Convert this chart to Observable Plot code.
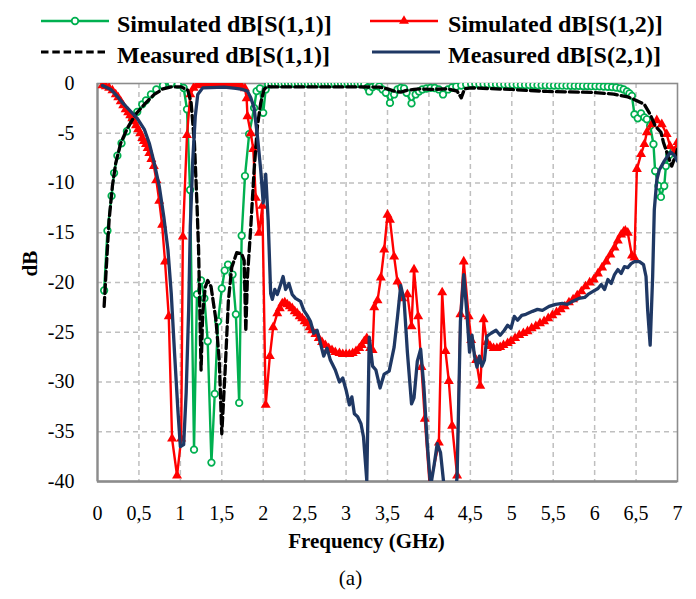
<!DOCTYPE html>
<html><head><meta charset="utf-8">
<script src="https://cdn.jsdelivr.net/npm/d3@7"></script>
<script src="https://cdn.jsdelivr.net/npm/@observablehq/plot@0.6"></script>
<style>
body{margin:0;background:#fff;font-family:"Liberation Serif","Times New Roman",Times,"DejaVu Serif",serif;}
#legend,#chart{width:696px;}
#legend svg,#chart svg{display:block;}
svg text{font-family:"Liberation Serif","Times New Roman",Times,"DejaVu Serif",serif !important;}
</style></head><body>
<div id="legend"></div><div id="chart"></div>
<script>
// ---- data ----
const legendLabels = ["Simulated dB[S(1,1)]","Simulated dB[S(1,2)]","Measured dB[S(1,1)]","Measured dB[S(2,1)]"];
const xTicks = [0,0.5,1,1.5,2,2.5,3,3.5,4,4.5,5,5.5,6,6.5,7];
const xTickLabels = ["0","0,5","1","1,5","2","2,5","3","3,5","4","4,5","5","5,5","6","6,5","7"];
const yTicks = [0,-5,-10,-15,-20,-25,-30,-35,-40];
const yTickLabels = ["0","-5","-10","-15","-20","-25","-30","-35","-40"];

// Simulated dB[S(1,1)]
const simS11F = [0.08,0.12,0.17,0.20,0.24,0.29,0.355,0.42,0.48,0.54,0.585,0.645,0.71,0.79,0.89,0.97,1.04,1.08,1.117,1.165,1.2,1.25,1.29,1.33,1.375,1.415,1.455,1.5,1.535,1.575,1.63,1.67,1.71,1.74,1.78,1.83,1.89,1.92,1.96,2.0,2.03,2.06,2.10,2.14,2.18,2.22,2.26,2.30,2.34,2.38,2.42,2.46,2.50,2.54,2.58,2.62,2.66,2.70,2.74,2.78,2.82,2.86,2.90,2.94,2.98,3.02,3.06,3.10,3.14,3.18,3.22,3.26,3.28,3.32,3.36,3.40,3.44,3.48,3.53,3.58,3.62,3.66,3.70,3.73,3.79,3.84,3.88,3.92,3.97,4.02,4.07,4.12,4.17,4.23,4.28,4.33,4.39,4.45,4.51,4.56,4.61,4.66,4.71,4.76,4.81,4.86,4.91,4.96,5.01,5.06,5.11,5.16,5.21,5.26,5.31,5.36,5.41,5.46,5.51,5.56,5.61,5.66,5.71,5.76,5.81,5.86,5.91,5.96,6.01,6.06,6.11,6.16,6.21,6.26,6.31,6.35,6.39,6.42,6.45,6.48,6.52,6.56,6.6,6.63,6.67,6.71,6.73,6.77,6.8,6.84,6.86,6.9,6.95,7.0];
const simS11Db = [-20.8,-14.8,-11.3,-9.0,-7.25,-6.0,-4.8,-3.6,-2.85,-2.1,-1.7,-1.1,-0.6,-0.2,0,-0.1,-0.45,-2.6,-10.7,-36.8,-21.2,-19.8,-21.6,-25.9,-38.1,-31.2,-23.9,-20.6,-18.8,-18.2,-19.2,-23.2,-32.1,-15.3,-9.3,-5.1,-2.45,-0.77,-0.5,-2.95,-0.6,-0.1,-0.05,-0.03,-0.02,-0.02,-0.02,-0.02,-0.02,-0.02,-0.02,-0.02,-0.02,-0.02,-0.02,-0.02,-0.02,-0.02,-0.02,-0.02,-0.02,-0.02,-0.02,-0.02,-0.02,-0.02,-0.03,-0.03,-0.04,-0.05,-0.1,-0.4,-0.8,-0.35,-0.2,-0.3,-0.6,-0.94,-1.95,-1.1,-0.6,-0.44,-0.5,-0.94,-2.0,-1.1,-0.8,-0.6,-0.5,-0.44,-0.45,-0.6,-1.1,-0.6,-0.4,-0.3,-0.2,-0.1,-0.05,-0.06,-0.07,-0.08,-0.08,-0.09,-0.1,-0.1,-0.11,-0.12,-0.12,-0.13,-0.14,-0.15,-0.15,-0.16,-0.17,-0.18,-0.19,-0.2,-0.2,-0.21,-0.22,-0.22,-0.23,-0.24,-0.24,-0.25,-0.26,-0.27,-0.28,-0.29,-0.31,-0.33,-0.36,-0.4,-0.48,-0.6,-0.8,-1.0,-1.24,-3.1,-3.5,-3.0,-3.4,-3.6,-4.25,-6.1,-8.8,-10.3,-11.4,-10.3,-8.3,-7.2,-6.8,-6.6];

// Simulated dB[S(1,2)]
const simS12F = [0.06,0.10,0.14,0.18,0.22,0.25,0.28,0.31,0.34,0.37,0.395,0.42,0.44,0.465,0.49,0.515,0.54,0.56,0.585,0.605,0.625,0.65,0.68,0.71,0.745,0.78,0.815,0.86,0.90,0.96,1.01,1.03,1.08,1.12,1.16,1.2,1.23,1.26,1.29,1.32,1.35,1.38,1.41,1.44,1.47,1.50,1.53,1.56,1.59,1.62,1.65,1.68,1.71,1.74,1.78,1.80,1.81,1.85,1.88,1.91,1.95,1.99,2.03,2.08,2.12,2.17,2.20,2.23,2.26,2.29,2.32,2.35,2.38,2.41,2.44,2.47,2.50,2.53,2.56,2.59,2.63,2.67,2.71,2.75,2.79,2.83,2.87,2.92,2.96,3.0,3.04,3.08,3.12,3.16,3.19,3.22,3.25,3.29,3.32,3.34,3.38,3.42,3.46,3.50,3.53,3.58,3.62,3.68,3.74,3.79,3.82,3.87,3.91,3.95,4.01,4.12,4.16,4.2,4.24,4.28,4.34,4.38,4.42,4.48,4.51,4.57,4.62,4.66,4.70,4.74,4.78,4.82,4.86,4.90,4.95,4.99,5.04,5.09,5.14,5.19,5.24,5.29,5.34,5.39,5.44,5.49,5.54,5.59,5.64,5.69,5.74,5.79,5.84,5.89,5.94,5.99,6.04,6.09,6.14,6.19,6.24,6.28,6.32,6.35,6.37,6.40,6.45,6.48,6.51,6.56,6.6,6.63,6.69,6.75,6.81,6.87,6.91,6.96,7.0];
const simS12Db = [-0.2,-0.3,-0.44,-0.7,-1.1,-1.4,-1.8,-2.2,-2.6,-2.9,-3.2,-3.5,-3.8,-4.2,-4.6,-5.0,-5.5,-5.8,-6.1,-6.5,-7.0,-7.6,-8.3,-9.7,-11.8,-14.2,-17.9,-23.4,-35.7,-39.4,-35.7,-15.4,-5.2,-1.1,-0.44,-0.2,-0.15,-0.13,-0.12,-0.12,-0.12,-0.12,-0.12,-0.12,-0.13,-0.13,-0.14,-0.15,-0.16,-0.18,-0.2,-0.22,-0.25,-0.3,-0.5,-1.5,-3.3,-5.0,-6.6,-11.5,-15.0,-12.3,-32.3,-27.4,-24.5,-23.1,-22.6,-22.1,-22.0,-22.2,-22.4,-22.6,-22.9,-23.1,-23.4,-23.6,-23.9,-24.1,-24.5,-24.8,-25.2,-25.6,-26.0,-26.3,-26.6,-26.8,-27.0,-27.1,-27.2,-27.2,-27.2,-27.1,-26.9,-26.6,-26.3,-25.9,-25.6,-26.6,-26.8,-22.5,-21.8,-19.5,-16.7,-13.2,-13.7,-17.4,-19.9,-21.6,-21.2,-24.4,-18.7,-23.4,-28.5,-33.7,-40.5,-36.1,-21.0,-26.9,-29.9,-34.4,-39.4,-23.2,-17.9,-23.4,-25.8,-27.8,-30.4,-23.7,-26.0,-26.4,-26.6,-26.6,-26.5,-26.3,-26.1,-25.9,-25.6,-25.3,-25.1,-24.9,-24.6,-24.4,-24.1,-23.9,-23.6,-23.3,-23.0,-22.7,-22.4,-22.0,-21.7,-21.3,-20.9,-20.4,-20.0,-19.7,-19.1,-18.5,-17.9,-17.2,-16.5,-15.8,-15.2,-14.9,-14.8,-15.0,-17.3,-17.5,-8.6,-7.1,-6.1,-4.9,-4.1,-3.7,-4.1,-5.1,-6.3,-6.8,-5.9];

// Measured dB[S(1,1)]
const measS11F = [0.08,0.10,0.14,0.18,0.22,0.28,0.36,0.46,0.565,0.685,0.79,0.89,1.01,1.09,1.13,1.17,1.2,1.22,1.235,1.25,1.27,1.30,1.33,1.37,1.43,1.47,1.50,1.54,1.58,1.62,1.68,1.74,1.77,1.79,1.81,1.85,1.89,1.93,1.97,2.01,2.05,2.09,2.5,3.0,3.4,3.5,3.58,3.66,3.74,3.82,3.9,4.02,4.23,4.34,4.39,4.43,4.51,5.0,5.43,6.0,6.23,6.4,6.47,6.6,6.67,6.73,6.8,6.83,6.89,6.93,6.97,7.0];
const measS11Db = [-22.4,-19.4,-13.7,-10.3,-8.0,-6.0,-4.5,-3.1,-2.1,-1.1,-0.54,-0.34,-0.34,-0.67,-1.95,-6.0,-12.0,-16.7,-22.8,-28.8,-23.0,-20.5,-19.8,-20.4,-23.8,-27.9,-35.2,-28.9,-21.8,-18.5,-17.0,-17.1,-17.8,-24.9,-19.4,-14.4,-8.7,-4.3,-1.95,-0.6,-0.27,-0.34,-0.34,-0.34,-0.36,-0.54,-0.77,-0.87,-0.67,-0.6,-0.54,-0.6,-0.54,-0.77,-1.44,-0.54,-0.44,-0.6,-0.8,-0.9,-1.07,-1.35,-1.57,-2.1,-3.1,-4.25,-4.9,-5.9,-7.4,-8.3,-7.4,-6.6];

// Measured dB[S(2,1)]
const measS21F = [0.06,0.16,0.24,0.32,0.40,0.48,0.565,0.625,0.685,0.745,0.80,0.85,0.89,0.93,0.97,1.0,1.04,1.07,1.10,1.12,1.15,1.18,1.21,1.27,1.53,1.67,1.75,1.81,1.85,1.89,1.93,1.97,2.0,2.03,2.06,2.09,2.11,2.14,2.17,2.21,2.24,2.27,2.31,2.35,2.39,2.45,2.49,2.53,2.57,2.61,2.65,2.69,2.73,2.77,2.81,2.87,2.92,2.96,3.0,3.04,3.07,3.10,3.14,3.18,3.21,3.25,3.28,3.32,3.36,3.41,3.46,3.52,3.58,3.62,3.66,3.70,3.74,3.79,3.82,3.86,3.9,3.94,3.98,4.02,4.06,4.1,4.14,4.18,4.22,4.3,4.34,4.38,4.42,4.46,4.49,4.52,4.55,4.58,4.61,4.64,4.67,4.70,4.75,4.81,4.86,4.91,4.95,4.99,5.03,5.07,5.12,5.17,5.25,5.31,5.37,5.45,5.53,5.61,5.67,5.73,5.81,5.88,5.92,5.98,6.04,6.08,6.12,6.16,6.2,6.24,6.28,6.32,6.36,6.4,6.44,6.48,6.54,6.59,6.62,6.64,6.67,6.70,6.72,6.75,6.78,6.84,6.88,6.92,6.96,7.0];
const measS21Db = [-0.2,-0.6,-1.3,-2.1,-2.8,-3.5,-4.6,-6.0,-8.0,-10.3,-13.4,-16.7,-21.1,-27.1,-32.8,-36.5,-36.3,-31.1,-22.8,-14.4,-7.65,-3.3,-1.1,-0.44,-0.37,-0.5,-0.6,-0.77,-1.44,-2.45,-5.3,-8.7,-12.0,-9.1,-13.8,-21.1,-21.7,-20.7,-21.2,-20.2,-19.4,-20.7,-20.1,-21.2,-21.6,-21.9,-22.8,-23.3,-23.9,-25.1,-24.8,-26.1,-27.4,-26.6,-27.8,-28.8,-30.0,-29.6,-30.8,-32.3,-31.5,-33.2,-33.5,-34.2,-35.5,-39.9,-25.5,-28.4,-28.8,-30.6,-29.2,-28.9,-26.5,-23.5,-20.3,-21.8,-27.0,-32.2,-31.6,-27.9,-26.7,-30.6,-36.2,-40.5,-38.5,-36.2,-37.1,-40.3,-43,-43,-39.5,-23.9,-19.2,-23.3,-27.0,-25.3,-27.4,-28.5,-27.4,-28.4,-27.8,-25.4,-25.1,-24.8,-25.3,-24.8,-24.3,-24.6,-23.4,-23.8,-23.3,-23.2,-22.9,-22.7,-22.8,-22.4,-22.2,-22.1,-22.2,-21.9,-21.6,-21.5,-21.2,-20.9,-20.6,-20.2,-20.7,-19.7,-20.1,-19.2,-18.7,-19.1,-18.4,-18.5,-18.1,-17.9,-17.9,-18.2,-19.4,-22.8,-26.3,-19.4,-12.7,-9.7,-8.7,-7.8,-7.3,-6.9,-7.2,-7.8];

// ---- styles ----
const GREEN = "#00b050", RED = "#ff0000", NAVY = "#1f3864";
const FONT = "'Liberation Serif','Times New Roman',Times,'DejaVu Serif',serif";
const toRows = (F, D) => F.map((f, i) => ({f, db: D[i]}));
const simS11 = toRows(simS11F, simS11Db);
const simS12 = toRows(simS12F, simS12Db);
const measS11 = toRows(measS11F, measS11Db);
const measS21 = toRows(measS21F, measS21Db);

// ---- legend ----
const leg = d3.select("#legend").append("svg").attr("width", 696).attr("height", 70)
  .style("font-family", FONT);
const items = [
  {x0: 41, x1: 109, y: 21, tx: 117, ty: 31.7, label: legendLabels[0], kind: "green"},
  {x0: 370, x1: 438, y: 21, tx: 448, ty: 31.7, label: legendLabels[1], kind: "red"},
  {x0: 41, x1: 108, y: 52, tx: 117, ty: 62.7, label: legendLabels[2], kind: "black"},
  {x0: 372, x1: 440, y: 52, tx: 448, ty: 62.7, label: legendLabels[3], kind: "navy"}
];
for (const it of items) {
  const stroke = it.kind === "green" ? GREEN : it.kind === "red" ? RED : it.kind === "black" ? "#000" : NAVY;
  const ln = leg.append("line").attr("x1", it.x0).attr("x2", it.x1).attr("y1", it.y).attr("y2", it.y)
    .attr("stroke", stroke).attr("stroke-width", it.kind === "green" || it.kind === "red" ? 2.4 : 3.2);
  if (it.kind === "black") ln.attr("stroke-dasharray", "7.5,3.8");
  const cx = (it.x0 + it.x1) / 2;
  if (it.kind === "green") leg.append("circle").attr("cx", cx).attr("cy", it.y).attr("r", 3.3)
    .attr("fill", "#fff").attr("stroke", GREEN).attr("stroke-width", 1.8);
  if (it.kind === "red") leg.append("path").attr("transform", `translate(${cx},${it.y})`)
    .attr("d", d3.symbol(d3.symbolTriangle, 42)()).attr("fill", RED);
  leg.append("text").attr("x", it.tx).attr("y", it.ty).attr("font-size", 24).attr("font-weight", "bold")
    .attr("fill", "#000").text(it.label);
}

// ---- chart ----
const chart = Plot.plot({
  width: 696, height: 529,
  marginTop: 13, marginBottom: 118, marginLeft: 97, marginRight: 19,
  style: {fontFamily: FONT, background: "#fff", color: "#000", overflow: "visible"},
  x: {domain: [0, 7], label: null},
  y: {domain: [-40, 0], label: null},
  marks: [
    Plot.gridX(xTicks.slice(1, -1), {stroke: "#bfbfbf", strokeOpacity: 1, strokeWidth: 1.5, strokeDasharray: "5,4"}),
    Plot.gridY(yTicks.slice(1, -1), {stroke: "#bfbfbf", strokeOpacity: 1, strokeWidth: 1.5, strokeDasharray: "5,4"}),
    Plot.frame({stroke: "#8c8c8c", strokeWidth: 1.6}),
    Plot.ruleX([0], {stroke: "#8c8c8c", strokeWidth: 2.2}),
    Plot.ruleY([-40], {stroke: "#8c8c8c", strokeWidth: 2.4}),
    Plot.axisX(xTicks, {tickSize: 0, tickPadding: 24, fontSize: 20, label: null,
      tickFormat: d => xTickLabels[xTicks.indexOf(d)]}),
    Plot.axisY(yTicks, {tickSize: 0, tickPadding: 23, fontSize: 20, label: null,
      tickFormat: d => yTickLabels[yTicks.indexOf(d)]}),
    Plot.text(["Frequency (GHz)"], {text: d => d, frameAnchor: "bottom", dx: -21, dy: 66, fontSize: 21, fontWeight: "bold"}),
    Plot.text(["(a)"], {text: d => d, frameAnchor: "bottom", dx: -37, dy: 103, fontSize: 21}),
    Plot.text(["dB"], {text: d => d, frameAnchor: "left", rotate: -90, dx: -67, dy: -6, fontSize: 21, fontWeight: "bold"}),
    Plot.line(simS11, {x: "f", y: "db", stroke: GREEN, strokeWidth: 2.4, clip: true}),
    Plot.dot(simS11, {x: "f", y: "db", symbol: "circle", r: 3.3, fill: "#fff", stroke: GREEN, strokeWidth: 1.7, clip: true}),
    Plot.line(simS12, {x: "f", y: "db", stroke: RED, strokeWidth: 2.4, clip: true}),
    Plot.dot(simS12, {x: "f", y: "db", symbol: "triangle", r: 3.7, fill: RED, stroke: "none", clip: true}),
    Plot.line(measS11, {x: "f", y: "db", stroke: "#000", strokeWidth: 3.3, strokeDasharray: "9,4", clip: true}),
    Plot.line(measS21, {x: "f", y: "db", stroke: NAVY, strokeWidth: 3.3, clip: true})
  ]
});
document.getElementById("chart").appendChild(chart);
</script></body></html>
